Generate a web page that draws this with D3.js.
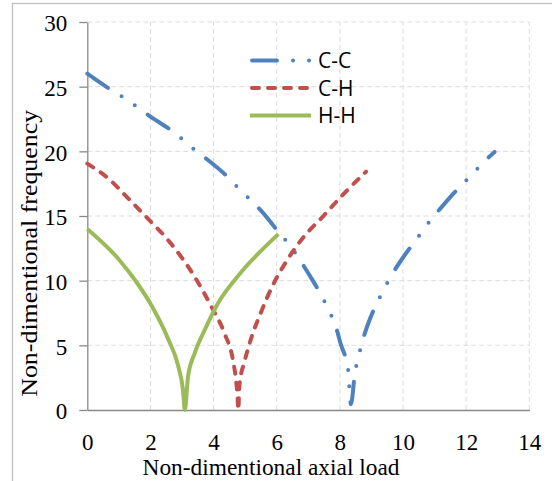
<!DOCTYPE html>
<html>
<head>
<meta charset="utf-8">
<script src="https://cdn.jsdelivr.net/npm/d3@7"></script>
<style>
  body { margin: 0; background: #fff; }
</style>
</head>
<body>
<div id="chart"></div>
<script>
// values
var ccLoad = [0, 0.72, 1.14, 1.54, 1.93, 2.67, 3.03, 3.43, 3.82, 4.49, 4.82, 5.19, 5.51, 6.11,
              6.43, 6.72, 6.98, 7.46, 7.67, 7.88, 8.02, 8.27, 8.30, 8.35, 8.48, 8.59, 8.72, 8.88,
              9.25, 9.48, 9.74, 10.02, 10.57, 10.86, 11.18, 11.51, 12.14, 12.47, 12.83, 12.9];
var ccFreq = [26.0, 24.8, 24.18, 23.5, 22.8, 21.6, 20.9, 20.05, 19.33, 17.92, 17.07, 16.19, 15.39, 13.6,
              12.68, 11.65, 10.65, 8.64, 7.6, 6.37, 5.16, 2.96, 1.72, 0.44, 2.92, 4.12, 5.36, 6.57,
              8.64, 9.74, 10.83, 11.86, 13.67, 14.64, 15.57, 16.5, 18.1, 18.95, 19.8, 19.95];

var chLoad = [0, 0.72, 1.24, 1.88, 2.64, 3.4, 3.93, 4.35, 4.61, 4.72, 4.76, 4.78,
              4.82, 4.98, 5.19, 5.51, 5.88, 6.30, 6.82, 7.46, 8.09, 8.83];
var chFreq = [19.05, 17.79, 16.5, 14.9, 12.9, 10.3, 8.0, 5.9, 3.9, 2.1, 1.0, 0,
              1.93, 3.74, 5.54, 7.6, 9.67, 11.47, 13.28, 14.95, 16.63, 18.43];

var hhLoad = [0, 0.98, 1.51, 2.03, 2.56, 2.88, 3.03, 3.09, 3.19, 3.40, 3.72, 4.14, 4.67, 4.98, 5.5, 6.05];
var hhFreq = [14.0, 11.7, 10.05, 8.1, 5.5, 3.4, 1.55, 0, 2.58, 4.38, 6.19, 8.25, 10.05, 10.96, 12.3, 13.6];

var seriesNames = ["C-C", "C-H", "H-H"];
var xTicks = [0, 2, 4, 6, 8, 10, 12, 14];
var yTicks = [0, 5, 10, 15, 20, 25, 30];

var width = 552;
var height = 481;

function pairs(xs, ys) {
  return xs.map(function(d, i) { return { x: d, y: ys[i] }; });
}

var series = [
  { name: seriesNames[0], data: pairs(ccLoad, ccFreq), color: "#4F81BD", dash: "25 16 0 16 0 16", cap: "round" },
  { name: seriesNames[1], data: pairs(chLoad, chFreq), color: "#C0504D", dash: "7 9", cap: "round" },
  { name: seriesNames[2], data: pairs(hhLoad, hhFreq), color: "#9BBB59", dash: null, cap: "butt" }
];

var svg = d3.select("#chart")
  .append("svg")
  .attr("width", width)
  .attr("height", height);

svg.append("rect")
  .attr("width", width)
  .attr("height", height)
  .attr("fill", "#fff");

// outer frame, cut off at the right and bottom
svg.append("rect")
  .attr("x", 12.5)
  .attr("y", 3.5)
  .attr("width", 600)
  .attr("height", 600)
  .attr("fill", "none")
  .attr("stroke", "#BFBFBF")
  .attr("stroke-width", 1.3);

var x = d3.scaleLinear().domain([0, 14]).range([87.3, 529.3]);
var y = d3.scaleLinear().domain([0, 30]).range([410, 22]);

// grid
svg.append("g").selectAll("line")
  .data(xTicks.slice(1))
  .enter()
  .append("line")
  .attr("x1", function(d) { return x(d); })
  .attr("x2", function(d) { return x(d); })
  .attr("y1", y(0))
  .attr("y2", y(30))
  .attr("stroke", "#DCDCDC")
  .attr("stroke-dasharray", "5 3");

svg.append("g").selectAll("line")
  .data(yTicks.slice(1))
  .enter()
  .append("line")
  .attr("x1", x(0))
  .attr("x2", x(14))
  .attr("y1", function(d) { return y(d); })
  .attr("y2", function(d) { return y(d); })
  .attr("stroke", "#DCDCDC")
  .attr("stroke-dasharray", "5 3");

var serif = "'Liberation Serif', 'Times New Roman', serif";

var xAxis = svg.append("g")
  .attr("transform", "translate(0," + y(0) + ")")
  .call(d3.axisBottom(x).tickValues(xTicks).tickSize(0).tickSizeOuter(0).tickPadding(23.5));

var yAxis = svg.append("g")
  .attr("transform", "translate(" + x(0) + ",0)")
  .call(d3.axisLeft(y).tickValues(yTicks).tickSize(8).tickSizeOuter(0).tickPadding(12));

[xAxis, yAxis].forEach(function(g) {
  g.select(".domain").attr("stroke", "#898989").attr("stroke-width", 1.3);
  g.selectAll(".tick line").attr("stroke", "#898989").attr("stroke-width", 1.3);
  g.selectAll("text")
    .attr("fill", "#000")
    .style("font-family", serif)
    .style("font-size", "23px");
});
yAxis.selectAll("text").attr("dy", "0.38em");

// curves
var line = d3.line()
  .x(function(d) { return x(d.x); })
  .y(function(d) { return y(d.y); })
  .curve(d3.curveMonotoneX);

svg.append("g").selectAll("path")
  .data(series)
  .enter()
  .append("path")
  .attr("d", function(d) { return line(d.data); })
  .attr("fill", "none")
  .attr("stroke", function(d) { return d.color; })
  .attr("stroke-width", 4)
  .attr("stroke-linecap", function(d) { return d.cap; })
  .attr("stroke-dasharray", function(d) { return d.dash; });

// legend
var legend = svg.append("g").selectAll("g")
  .data(series)
  .enter()
  .append("g")
  .attr("transform", function(d, i) { return "translate(0," + (60.5 + i * 27.5) + ")"; });

legend.append("line")
  .attr("x1", function(d) { return d.cap == "round" ? 252 : 250; })
  .attr("x2", 311)
  .attr("stroke", function(d) { return d.color; })
  .attr("stroke-width", 4)
  .attr("stroke-linecap", function(d) { return d.cap; })
  .attr("stroke-dasharray", function(d) { return d.dash; });

legend.append("text")
  .attr("x", 318)
  .attr("dy", "0.36em")
  .style("font-family", "'Open Sans', sans-serif")
  .style("font-size", "21px")
  .attr("fill", "#000")
  .text(function(d) { return d.name; });

// axis titles
svg.append("text")
  .attr("x", 271)
  .attr("y", 475)
  .attr("text-anchor", "middle")
  .attr("textLength", 257)
  .attr("lengthAdjust", "spacingAndGlyphs")
  .style("font-family", serif)
  .style("font-size", "24px")
  .text("Non-dimentional axial load");

svg.append("text")
  .attr("transform", "translate(36.7,253.3) rotate(-90)")
  .attr("text-anchor", "middle")
  .attr("textLength", 287)
  .attr("lengthAdjust", "spacingAndGlyphs")
  .style("font-family", serif)
  .style("font-size", "24px")
  .text("Non-dimentional frequency");
</script>
</body>
</html>
